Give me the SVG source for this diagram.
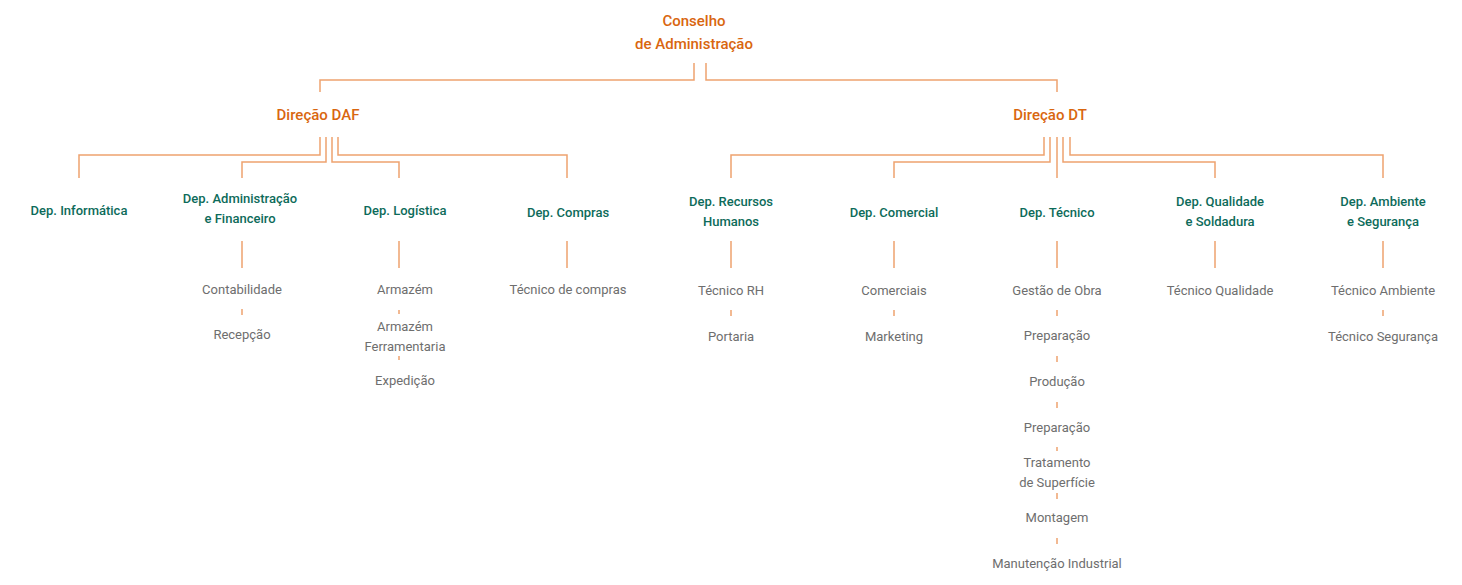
<svg xmlns="http://www.w3.org/2000/svg" width="1462" height="585" viewBox="0 0 1462 585">
<style>
text{font-family:Roboto,"Noto Sans","Liberation Sans",sans-serif;text-anchor:middle}
.h{fill:#d9660f;font-size:15px;font-weight:500}
.d{fill:#0d6b5a;font-size:13px;font-weight:500}
.i{fill:#6e6e6e;font-size:13px}
#c path{fill:none;stroke:#eea26f;stroke-width:1.5}
</style>
<rect width="1462" height="585" fill="#fff"/>
<g id="c">
<path d="M694 63V80H320V92M706 63V80H1057V92"/>
<path d="M320 137V155H79V178M326 137V162H242V178M332 137V162H399V178M338 137V155H567V178"/>
<path d="M1044 137V155H731V178M1050 137V162H894V178M1057 137V178M1063 137V162H1215V178M1070 137V155H1383V178"/>
<path d="M242 241V268M399 241V268M567 241V268M731 241V268M894 241V268M1057 241V268M1215 241V268M1383 241V268"/>
<path d="M242 309V315M399 310V314M399 356V360M731 310V316M894 310V316M1383 310V316M1057 310V316M1057 356V362M1057 402V408M1057 447V451M1057 493V499M1057 538V544"/>
</g>
<g id="conselho"><text class="h" x="694" y="26">Conselho</text><text class="h" x="694" y="49">de Administração</text></g>
<g id="daf"><text class="h" x="318" y="120">Direção DAF</text></g>
<g id="dt"><text class="h" x="1050" y="120">Direção DT</text></g>
<g id="inf"><text class="d" x="79" y="215">Dep. Informática</text></g>
<g id="adm"><text class="d" x="240" y="203">Dep. Administração</text><text class="d" x="240" y="223">e Financeiro</text>
<text class="i" x="242" y="294">Contabilidade</text><text class="i" x="242" y="339">Recepção</text></g>
<g id="log"><text class="d" x="405" y="215">Dep. Logística</text>
<text class="i" x="405" y="294">Armazém</text><text class="i" x="405" y="331">Armazém</text><text class="i" x="405" y="351">Ferramentaria</text><text class="i" x="405" y="385">Expedição</text></g>
<g id="comp"><text class="d" x="568" y="217">Dep. Compras</text><text class="i" x="568" y="294">Técnico de compras</text></g>
<g id="rh"><text class="d" x="731" y="206">Dep. Recursos</text><text class="d" x="731" y="226">Humanos</text>
<text class="i" x="731" y="295">Técnico RH</text><text class="i" x="731" y="341">Portaria</text></g>
<g id="com"><text class="d" x="894" y="217">Dep. Comercial</text>
<text class="i" x="894" y="295">Comerciais</text><text class="i" x="894" y="341">Marketing</text></g>
<g id="tec"><text class="d" x="1057" y="217">Dep. Técnico</text>
<text class="i" x="1057" y="295">Gestão de Obra</text><text class="i" x="1057" y="340">Preparação</text><text class="i" x="1057" y="386">Produção</text><text class="i" x="1057" y="432">Preparação</text><text class="i" x="1057" y="467">Tratamento</text><text class="i" x="1057" y="487">de Superfície</text><text class="i" x="1057" y="522">Montagem</text><text class="i" x="1057" y="568">Manutenção Industrial</text></g>
<g id="qual"><text class="d" x="1220" y="206">Dep. Qualidade</text><text class="d" x="1220" y="226">e Soldadura</text><text class="i" x="1220" y="295">Técnico Qualidade</text></g>
<g id="amb"><text class="d" x="1383" y="206">Dep. Ambiente</text><text class="d" x="1383" y="226">e Segurança</text>
<text class="i" x="1383" y="295">Técnico Ambiente</text><text class="i" x="1383" y="341">Técnico Segurança</text></g>
</svg>
